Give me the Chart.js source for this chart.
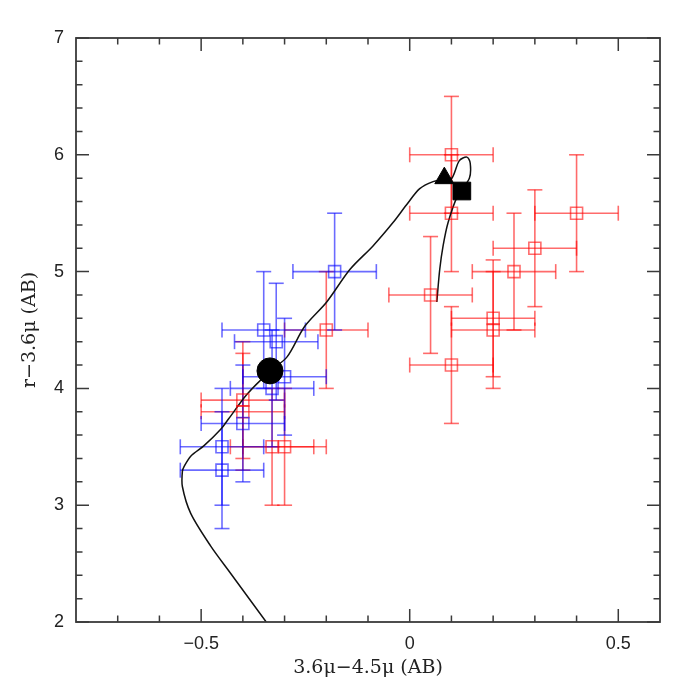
<!DOCTYPE html>
<html>
<head>
<meta charset="utf-8">
<script src="https://cdn.jsdelivr.net/npm/chart.js@4.4.1/dist/chart.umd.min.js"></script>
<style>
html, body { margin: 0; padding: 0; background: #fff; }
</style>
</head>
<body>
<canvas id="c" width="698" height="698"></canvas>
<script>
// red sample
var redX = [0.10, 0.10, 0.40, 0.30, 0.25, 0.05, 0.20, 0.20, 0.10, -0.20, -0.40, -0.40, -0.33, -0.30];
var redY = [6.0, 5.5, 5.5, 5.2, 5.0, 4.8, 4.6, 4.5, 4.2, 4.5, 3.9, 3.8, 3.5, 3.5];
var redXErr = [0.1, 0.1, 0.1, 0.1, 0.1, 0.1, 0.1, 0.1, 0.1, 0.1, 0.1, 0.1, 0.1, 0.1];
var redYErr = [0.5, 0.5, 0.5, 0.5, 0.5, 0.5, 0.5, 0.5, 0.5, 0.5, 0.5, 0.5, 0.5, 0.5];

// blue sample
var blueX = [-0.18, -0.35, -0.32, -0.30, -0.33, -0.40, -0.45, -0.45];
var blueY = [5.0, 4.5, 4.4, 4.1, 4.0, 3.7, 3.5, 3.3];
var blueXErr = [0.1, 0.1, 0.1, 0.1, 0.1, 0.1, 0.1, 0.1];
var blueYErr = [0.5, 0.5, 0.5, 0.5, 0.5, 0.5, 0.5, 0.5];

// model track
var trackX = [-0.344, -0.43, -0.477, -0.525, -0.545, -0.545, -0.541, -0.525, -0.493, -0.453, -0.434, -0.39, -0.334, -0.294, -0.252, -0.199, -0.143, -0.088, -0.04, -0.008, 0.024, 0.056, 0.083, 0.101, 0.119, 0.137, 0.145, 0.143, 0.115, 0.092, 0.08, 0.072, 0.065];
var trackY = [2.0, 2.42, 2.65, 2.93, 3.16, 3.29, 3.33, 3.42, 3.51, 3.65, 3.74, 3.95, 4.15, 4.27, 4.53, 4.74, 5.02, 5.22, 5.42, 5.57, 5.71, 5.77, 5.79, 5.80, 5.95, 5.98, 5.93, 5.80, 5.65, 5.42, 5.22, 5.02, 4.74];

// black markers on the track
var circleX = [-0.335], circleY = [4.15];
var triangleX = [0.083], triangleY = [5.80];
var squareX = [0.125], squareY = [5.69];

// axes
var xMin = -0.8, xMax = 0.6, yMin = 2, yMax = 7;
var xMajor = [-0.5, 0, 0.5];
var xMinor = [-0.7, -0.6, -0.4, -0.3, -0.2, -0.1, 0.1, 0.2, 0.3, 0.4];
var yMajor = [2, 3, 4, 5, 6, 7];
var yMinor = [2.2, 2.4, 2.6, 2.8, 3.2, 3.4, 3.6, 3.8, 4.2, 4.4, 4.6, 4.8, 5.2, 5.4, 5.6, 5.8, 6.2, 6.4, 6.6, 6.8];

var redColor = 'rgba(255, 0, 0, 0.58)';
var blueColor = 'rgba(0, 0, 255, 0.58)';

function pts(xs, ys) {
    return xs.map((x, i) => ({ x: x, y: ys[i] }));
}

function fmt(v) {
    if (Math.abs(v) < 1e-9) return '0';
    return (v < 0 ? '\u2212' : '') + Math.abs(v).toString();
}

const errorBars = {
    id: 'errorBars',
    beforeDatasetsDraw(chart) {
        const ctx = chart.ctx;
        const xs = chart.scales.x, ys = chart.scales.y;
        const a = chart.chartArea;
        const cap = 7.5;
        ctx.save();
        ctx.beginPath();
        ctx.rect(a.left, a.top, a.right - a.left, a.bottom - a.top);
        ctx.clip();
        ctx.lineWidth = 1.6;
        function draw(X, Y, XE, YE, color) {
            ctx.strokeStyle = color;
            for (let i = 0; i < X.length; i++) {
                const px = xs.getPixelForValue(X[i]);
                const py = ys.getPixelForValue(Y[i]);
                if (XE[i]) {
                    const l = xs.getPixelForValue(X[i] - XE[i]);
                    const r = xs.getPixelForValue(X[i] + XE[i]);
                    ctx.beginPath();
                    ctx.moveTo(l, py); ctx.lineTo(r, py);
                    ctx.stroke();
                    ctx.beginPath();
                    ctx.moveTo(l, py - cap); ctx.lineTo(l, py + cap);
                    ctx.stroke();
                    ctx.beginPath();
                    ctx.moveTo(r, py - cap); ctx.lineTo(r, py + cap);
                    ctx.stroke();
                }
                if (YE[i]) {
                    const t = ys.getPixelForValue(Y[i] + YE[i]);
                    const b = ys.getPixelForValue(Y[i] - YE[i]);
                    ctx.beginPath();
                    ctx.moveTo(px, t); ctx.lineTo(px, b);
                    ctx.stroke();
                    ctx.beginPath();
                    ctx.moveTo(px - cap, t); ctx.lineTo(px + cap, t);
                    ctx.stroke();
                    ctx.beginPath();
                    ctx.moveTo(px - cap, b); ctx.lineTo(px + cap, b);
                    ctx.stroke();
                }
            }
        }
        draw(redX, redY, redXErr, redYErr, redColor);
        draw(blueX, blueY, blueXErr, blueYErr, blueColor);
        ctx.restore();
    }
};

// box with inward ticks on all four sides
const frame = {
    id: 'frame',
    afterDraw(chart) {
        const ctx = chart.ctx;
        const xs = chart.scales.x, ys = chart.scales.y;
        const a = chart.chartArea;
        ctx.save();
        ctx.strokeStyle = '#3a3a3a';
        ctx.lineWidth = 1.8;
        ctx.strokeRect(a.left, a.top, a.right - a.left, a.bottom - a.top);
        ctx.lineWidth = 1.5;
        function xt(v, len) {
            const p = xs.getPixelForValue(v);
            ctx.beginPath();
            ctx.moveTo(p, a.bottom); ctx.lineTo(p, a.bottom - len);
            ctx.moveTo(p, a.top); ctx.lineTo(p, a.top + len);
            ctx.stroke();
        }
        function yt(v, len) {
            const p = ys.getPixelForValue(v);
            ctx.beginPath();
            ctx.moveTo(a.left, p); ctx.lineTo(a.left + len, p);
            ctx.moveTo(a.right, p); ctx.lineTo(a.right - len, p);
            ctx.stroke();
        }
        xMajor.forEach(v => xt(v, 13));
        xMinor.forEach(v => xt(v, 6.5));
        yMajor.forEach(v => yt(v, 13));
        yMinor.forEach(v => yt(v, 6.5));
        ctx.restore();
    }
};

new Chart(document.getElementById('c'), {
    type: 'scatter',
    data: {
        datasets: [
            {
                label: 'circle',
                data: pts(circleX, circleY),
                pointStyle: 'circle',
                pointRadius: 13,
                backgroundColor: '#000',
                borderColor: '#000',
                order: 0
            },
            {
                label: 'triangle',
                data: pts(triangleX, triangleY),
                pointStyle: 'triangle',
                pointRadius: 11,
                backgroundColor: '#000',
                borderColor: '#000',
                order: 0
            },
            {
                label: 'square',
                data: pts(squareX, squareY),
                pointStyle: 'rect',
                pointRadius: 12.5,
                backgroundColor: '#000',
                borderColor: '#000',
                order: 0
            },
            {
                label: 'blue',
                data: pts(blueX, blueY),
                pointStyle: 'rect',
                pointRadius: 8.5,
                borderWidth: 1.6,
                backgroundColor: 'rgba(0,0,0,0)',
                borderColor: blueColor,
                order: 1
            },
            {
                label: 'red',
                data: pts(redX, redY),
                pointStyle: 'rect',
                pointRadius: 8.5,
                borderWidth: 1.6,
                backgroundColor: 'rgba(0,0,0,0)',
                borderColor: redColor,
                order: 2
            },
            {
                label: 'track',
                data: pts(trackX, trackY),
                showLine: true,
                tension: 0.3,
                pointRadius: 0,
                borderColor: '#111',
                borderWidth: 1.5,
                order: 3
            }
        ]
    },
    options: {
        responsive: false,
        animation: false,
        devicePixelRatio: 1,
        layout: { padding: { top: 38, right: 38, left: 0, bottom: 0 } },
        plugins: {
            legend: { display: false },
            tooltip: { enabled: false }
        },
        scales: {
            x: {
                type: 'linear',
                min: xMin,
                max: xMax,
                grid: { display: false, drawTicks: false },
                border: { display: false },
                afterBuildTicks: s => { s.ticks = xMajor.map(v => ({ value: v })); },
                afterFit: s => { s.height = 76; },
                ticks: {
                    padding: 11,
                    color: '#222',
                    font: { family: 'Liberation Sans', size: 18 },
                    callback: v => fmt(v)
                },
                title: {
                    display: true,
                    text: '3.6\u03bc\u22124.5\u03bc (AB)',
                    color: '#222',
                    font: { family: 'DejaVu Serif', size: 19 },
                    padding: { top: 0, bottom: 19 }
                }
            },
            y: {
                type: 'linear',
                min: yMin,
                max: yMax,
                grid: { display: false, drawTicks: false },
                border: { display: false },
                afterBuildTicks: s => { s.ticks = yMajor.map(v => ({ value: v })); },
                afterFit: s => { s.width = 76; },
                ticks: {
                    padding: 12,
                    color: '#222',
                    font: { family: 'Liberation Sans', size: 18 },
                    callback: v => fmt(v)
                },
                title: {
                    display: true,
                    text: 'r\u22123.6\u03bc (AB)',
                    color: '#222',
                    font: { family: 'DejaVu Serif', size: 19 },
                    padding: { top: 19, bottom: 0 }
                }
            }
        }
    },
    plugins: [errorBars, frame]
});
</script>
</body>
</html>
